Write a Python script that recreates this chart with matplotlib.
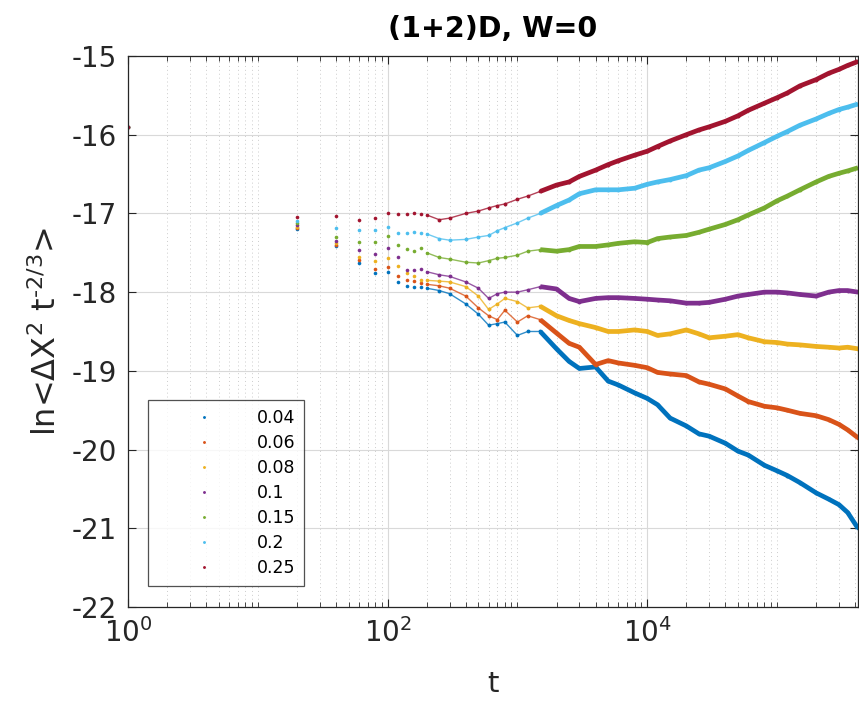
import numpy as np
import matplotlib
matplotlib.use("Agg")
import matplotlib.pyplot as plt
from matplotlib.ticker import LogLocator, NullFormatter, FixedLocator

plt.rcParams['axes.unicode_minus'] = False

# ---------------- data ----------------
labels = ["0.04", "0.06", "0.08", "0.1", "0.15", "0.2", "0.25"]
colors = ["#0072BD", "#D95319", "#EDB120", "#7E2F8E", "#77AC30", "#4DBEEE", "#A2142F"]

# sparse early samples (t = 1, then every 20 steps)
t_early = [1, 20, 40, 60, 80, 100, 120, 140, 160, 180, 200]
# later samples (dense region)
t_late = [250, 300, 400, 500, 600, 700, 800, 1000, 1200, 1500, 2000, 2500, 3000,
          4000, 5000, 6000, 8000, 1e4, 1.2e4, 1.5e4, 2e4, 2.5e4, 3e4, 4e4, 5e4,
          6e4, 8e4, 1e5, 1.2e5, 1.5e5, 2e5, 2.5e5, 3e5, 3.5e5, 4.2e5]

early_004 = [-15.9, -17.20, -17.42, -17.63, -17.76, -17.74, -17.87, -17.92, -17.94, -17.93, -17.95]
early_006 = [-15.9, -17.18, -17.40, -17.59, -17.70, -17.68, -17.80, -17.84, -17.86, -17.88, -17.90]
early_008 = [-15.9, -17.17, -17.38, -17.55, -17.60, -17.57, -17.67, -17.76, -17.80, -17.84, -17.85]
early_01  = [-15.9, -17.15, -17.35, -17.46, -17.51, -17.44, -17.55, -17.72, -17.72, -17.70, -17.74]
early_015 = [-15.9, -17.12, -17.30, -17.36, -17.36, -17.29, -17.40, -17.45, -17.48, -17.44, -17.50]
early_02  = [-15.9, -17.10, -17.18, -17.21, -17.21, -17.17, -17.25, -17.25, -17.24, -17.25, -17.26]
early_025 = [-15.9, -17.05, -17.03, -17.08, -17.06, -17.00, -17.01, -17.01, -17.00, -17.01, -17.02]

late_004 = [-17.98, -18.02, -18.15, -18.28, -18.42, -18.40, -18.38, -18.55, -18.50, -18.50, -18.72,
            -18.88, -18.97, -18.95, -19.13, -19.18, -19.28, -19.35, -19.43, -19.60, -19.70, -19.80,
            -19.83, -19.92, -20.02, -20.07, -20.20, -20.27, -20.33, -20.42, -20.55, -20.63, -20.70,
            -20.80, -21.00]
late_006 = [-17.92, -17.95, -18.05, -18.20, -18.30, -18.35, -18.23, -18.38, -18.30, -18.35, -18.52,
            -18.65, -18.70, -18.92, -18.87, -18.90, -18.93, -18.96, -19.02, -19.04, -19.06, -19.14,
            -19.17, -19.23, -19.32, -19.39, -19.45, -19.47, -19.50, -19.54, -19.57, -19.62, -19.68,
            -19.75, -19.85]
late_008 = [-17.86, -17.87, -17.93, -18.05, -18.22, -18.15, -18.08, -18.12, -18.20, -18.18, -18.30,
            -18.36, -18.40, -18.45, -18.50, -18.50, -18.48, -18.50, -18.55, -18.53, -18.48, -18.53,
            -18.58, -18.56, -18.54, -18.58, -18.63, -18.64, -18.66, -18.67, -18.69, -18.70, -18.71,
            -18.70, -18.72]
late_01 = [-17.78, -17.80, -17.87, -17.95, -18.08, -18.02, -18.00, -18.00, -17.97, -17.93, -17.96,
           -18.08, -18.12, -18.08, -18.07, -18.07, -18.08, -18.09, -18.10, -18.11, -18.14, -18.14,
           -18.13, -18.09, -18.05, -18.03, -18.00, -18.00, -18.01, -18.03, -18.05, -18.00, -17.98,
           -17.98, -18.00]
late_015 = [-17.56, -17.58, -17.62, -17.63, -17.60, -17.57, -17.56, -17.53, -17.48, -17.46, -17.48,
            -17.46, -17.42, -17.42, -17.40, -17.38, -17.36, -17.37, -17.32, -17.30, -17.28, -17.24,
            -17.20, -17.14, -17.08, -17.02, -16.93, -16.84, -16.78, -16.70, -16.60, -16.53, -16.49,
            -16.46, -16.42]
late_02 = [-17.32, -17.34, -17.33, -17.30, -17.28, -17.22, -17.18, -17.12, -17.06, -17.00, -16.90,
           -16.83, -16.75, -16.70, -16.70, -16.70, -16.68, -16.63, -16.60, -16.57, -16.52, -16.45,
           -16.42, -16.34, -16.27, -16.20, -16.10, -16.02, -15.96, -15.88, -15.80, -15.73, -15.68,
           -15.65, -15.61]
late_025 = [-17.08, -17.06, -17.00, -16.97, -16.93, -16.90, -16.88, -16.82, -16.78, -16.72, -16.64,
            -16.60, -16.53, -16.45, -16.38, -16.33, -16.26, -16.21, -16.15, -16.08, -16.00, -15.94,
            -15.90, -15.83, -15.76, -15.69, -15.60, -15.53, -15.47, -15.38, -15.30, -15.22, -15.17,
            -15.12, -15.07]

early_vals = [early_004, early_006, early_008, early_01, early_015, early_02, early_025]
late_vals = [late_004, late_006, late_008, late_01, late_015, late_02, late_025]

# ---------------- figure ----------------
fig = plt.figure(figsize=(8.59, 7.05), dpi=100)
ax = fig.add_axes([0.149, 0.139, 0.8498, 0.7816])

tl = np.array(t_late)
for lab, c, ev, lv in zip(labels, colors, early_vals, late_vals):
    lv = np.array(lv)
    ax.plot(t_early, ev, linestyle='none', marker='o', ms=2.6, mec='none', mfc=c, label=lab)
    ax.plot(tl, lv, linestyle='none', marker='o', ms=2.8, mec='none', mfc=c)
    m1 = tl <= 1500
    ax.plot(np.concatenate(([200], tl[m1])), np.concatenate(([ev[-1]], lv[m1])),
            color=c, lw=1.0, alpha=0.8)
    m2 = tl >= 1500
    ax.plot(tl[m2], lv[m2], color=c, lw=3.4, solid_capstyle='butt')

ax.set_xscale('log')
ax.set_xlim(1, 4.2e5)
ax.set_ylim(-22, -15)
ax.xaxis.set_major_locator(FixedLocator([1, 1e2, 1e4, 1e6]))
ax.xaxis.set_minor_locator(LogLocator(base=10, subs=np.arange(1, 10), numticks=50))
ax.xaxis.set_minor_formatter(NullFormatter())
ax.set_yticks(np.arange(-22, -14, 1))

ax.grid(True, which='major', axis='y', color='#d9d9d9', lw=0.8, ls='-')
ax.grid(True, which='major', axis='x', color='#d9d9d9', lw=0.8, ls='-')
ax.grid(True, which='minor', axis='x', color='#cccccc', lw=0.7, ls=(0, (1, 3)))
ax.set_axisbelow(True)

ax.tick_params(which='both', direction='in', top=True, right=True, color='#262626')
ax.tick_params(which='major', length=6, width=0.8, labelsize=20, labelcolor='#262626', pad=8)
ax.tick_params(which='minor', length=3.5, width=0.6)
for s in ax.spines.values():
    s.set_color('#262626')
    s.set_linewidth(0.9)

ax.set_title('(1+2)D, W=0', fontsize=20.5, fontweight='bold', pad=14)
ax.set_xlabel('t', fontsize=21, color='#262626', labelpad=16)
ax.set_ylabel('ln<$\\mathregular{\\Delta}$X$^{2}$ t$^{\u20102/3}$>', fontsize=23,
              color='#262626', labelpad=6)

leg = ax.legend(loc='lower left', bbox_to_anchor=(0.0274, 0.038), borderaxespad=0,
                fontsize=12.5, frameon=True, fancybox=False, edgecolor='#262626',
                borderpad=0.5, handlelength=5.4, handletextpad=0.35, labelspacing=0.41,
                markerscale=0.8)
leg.get_frame().set_linewidth(0.9)

fig.savefig('out.png', dpi=100)
